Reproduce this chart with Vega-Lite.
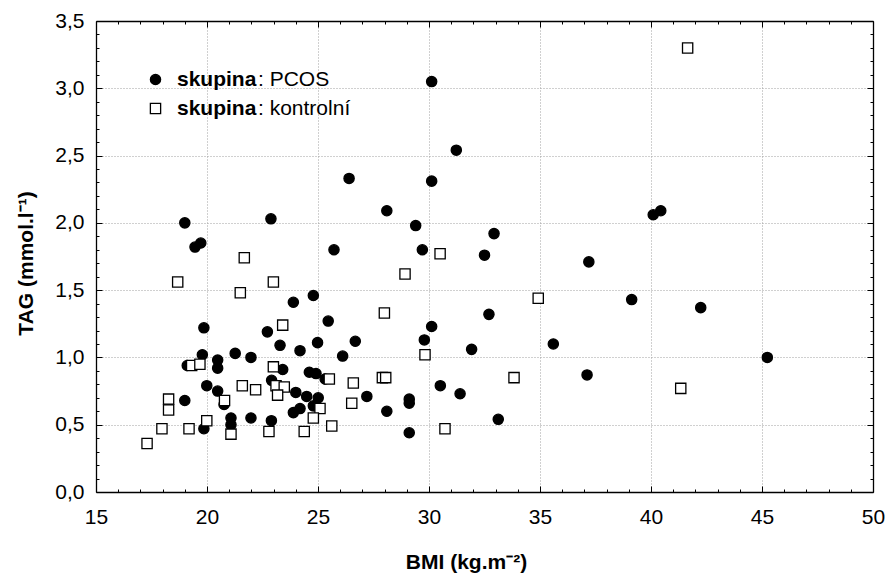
{
  "$schema": "https://vega.github.io/schema/vega-lite/v6.json",
  "width": 777,
  "height": 471,
  "autosize": "none",
  "padding": {"left": 96, "top": 21, "right": 18, "bottom": 84},
  "background": "white",
  "datasets": {
    "pts": [
      {"skupina": "PCOS", "bmi": 19.0, "tag": 2.00},
      {"skupina": "PCOS", "bmi": 19.46, "tag": 1.82},
      {"skupina": "PCOS", "bmi": 19.72, "tag": 1.85},
      {"skupina": "PCOS", "bmi": 22.88, "tag": 2.03},
      {"skupina": "PCOS", "bmi": 25.72, "tag": 1.80},
      {"skupina": "PCOS", "bmi": 26.4, "tag": 2.33},
      {"skupina": "PCOS", "bmi": 30.12, "tag": 3.05},
      {"skupina": "PCOS", "bmi": 31.23, "tag": 2.54},
      {"skupina": "PCOS", "bmi": 30.12, "tag": 2.31},
      {"skupina": "PCOS", "bmi": 28.1, "tag": 2.09},
      {"skupina": "PCOS", "bmi": 29.4, "tag": 1.98},
      {"skupina": "PCOS", "bmi": 32.93, "tag": 1.92},
      {"skupina": "PCOS", "bmi": 29.7, "tag": 1.80},
      {"skupina": "PCOS", "bmi": 32.5, "tag": 1.76},
      {"skupina": "PCOS", "bmi": 37.2, "tag": 1.71},
      {"skupina": "PCOS", "bmi": 40.1, "tag": 2.06},
      {"skupina": "PCOS", "bmi": 40.44, "tag": 2.09},
      {"skupina": "PCOS", "bmi": 23.89, "tag": 1.41},
      {"skupina": "PCOS", "bmi": 24.79, "tag": 1.46},
      {"skupina": "PCOS", "bmi": 25.46, "tag": 1.27},
      {"skupina": "PCOS", "bmi": 19.86, "tag": 1.22},
      {"skupina": "PCOS", "bmi": 22.72, "tag": 1.19},
      {"skupina": "PCOS", "bmi": 23.29, "tag": 1.09},
      {"skupina": "PCOS", "bmi": 24.19, "tag": 1.05},
      {"skupina": "PCOS", "bmi": 24.98, "tag": 1.11},
      {"skupina": "PCOS", "bmi": 26.68, "tag": 1.12},
      {"skupina": "PCOS", "bmi": 26.11, "tag": 1.01},
      {"skupina": "PCOS", "bmi": 19.79, "tag": 1.02},
      {"skupina": "PCOS", "bmi": 21.27, "tag": 1.03},
      {"skupina": "PCOS", "bmi": 21.98, "tag": 1.00},
      {"skupina": "PCOS", "bmi": 20.48, "tag": 0.98},
      {"skupina": "PCOS", "bmi": 20.48, "tag": 0.92},
      {"skupina": "PCOS", "bmi": 19.11, "tag": 0.94},
      {"skupina": "PCOS", "bmi": 23.41, "tag": 0.91},
      {"skupina": "PCOS", "bmi": 22.91, "tag": 0.83},
      {"skupina": "PCOS", "bmi": 24.61, "tag": 0.89},
      {"skupina": "PCOS", "bmi": 24.91, "tag": 0.88},
      {"skupina": "PCOS", "bmi": 25.32, "tag": 0.84},
      {"skupina": "PCOS", "bmi": 19.99, "tag": 0.79},
      {"skupina": "PCOS", "bmi": 20.48, "tag": 0.75},
      {"skupina": "PCOS", "bmi": 24.0, "tag": 0.74},
      {"skupina": "PCOS", "bmi": 24.49, "tag": 0.71},
      {"skupina": "PCOS", "bmi": 25.01, "tag": 0.70},
      {"skupina": "PCOS", "bmi": 27.2, "tag": 0.71},
      {"skupina": "PCOS", "bmi": 19.0, "tag": 0.68},
      {"skupina": "PCOS", "bmi": 20.77, "tag": 0.65},
      {"skupina": "PCOS", "bmi": 24.79, "tag": 0.64},
      {"skupina": "PCOS", "bmi": 24.19, "tag": 0.62},
      {"skupina": "PCOS", "bmi": 23.89, "tag": 0.59},
      {"skupina": "PCOS", "bmi": 21.08, "tag": 0.55},
      {"skupina": "PCOS", "bmi": 21.98, "tag": 0.55},
      {"skupina": "PCOS", "bmi": 22.9, "tag": 0.53},
      {"skupina": "PCOS", "bmi": 21.08, "tag": 0.50},
      {"skupina": "PCOS", "bmi": 19.86, "tag": 0.47},
      {"skupina": "PCOS", "bmi": 39.13, "tag": 1.43},
      {"skupina": "PCOS", "bmi": 32.7, "tag": 1.32},
      {"skupina": "PCOS", "bmi": 30.12, "tag": 1.23},
      {"skupina": "PCOS", "bmi": 29.79, "tag": 1.13},
      {"skupina": "PCOS", "bmi": 31.92, "tag": 1.06},
      {"skupina": "PCOS", "bmi": 35.6, "tag": 1.10},
      {"skupina": "PCOS", "bmi": 37.12, "tag": 0.87},
      {"skupina": "PCOS", "bmi": 30.51, "tag": 0.79},
      {"skupina": "PCOS", "bmi": 31.4, "tag": 0.73},
      {"skupina": "PCOS", "bmi": 29.11, "tag": 0.69},
      {"skupina": "PCOS", "bmi": 29.11, "tag": 0.66},
      {"skupina": "PCOS", "bmi": 28.1, "tag": 0.60},
      {"skupina": "PCOS", "bmi": 33.12, "tag": 0.54},
      {"skupina": "PCOS", "bmi": 29.11, "tag": 0.44},
      {"skupina": "PCOS", "bmi": 42.24, "tag": 1.37},
      {"skupina": "PCOS", "bmi": 45.24, "tag": 1.00},
      {"skupina": "kontrolní", "bmi": 41.65, "tag": 3.30},
      {"skupina": "kontrolní", "bmi": 21.68, "tag": 1.74},
      {"skupina": "kontrolní", "bmi": 18.68, "tag": 1.56},
      {"skupina": "kontrolní", "bmi": 22.99, "tag": 1.56},
      {"skupina": "kontrolní", "bmi": 21.5, "tag": 1.48},
      {"skupina": "kontrolní", "bmi": 23.41, "tag": 1.24},
      {"skupina": "kontrolní", "bmi": 19.31, "tag": 0.94},
      {"skupina": "kontrolní", "bmi": 19.68, "tag": 0.95},
      {"skupina": "kontrolní", "bmi": 22.99, "tag": 0.93},
      {"skupina": "kontrolní", "bmi": 25.51, "tag": 0.84},
      {"skupina": "kontrolní", "bmi": 26.59, "tag": 0.81},
      {"skupina": "kontrolní", "bmi": 21.59, "tag": 0.79},
      {"skupina": "kontrolní", "bmi": 22.19, "tag": 0.76},
      {"skupina": "kontrolní", "bmi": 23.11, "tag": 0.79},
      {"skupina": "kontrolní", "bmi": 23.48, "tag": 0.78},
      {"skupina": "kontrolní", "bmi": 23.18, "tag": 0.72},
      {"skupina": "kontrolní", "bmi": 18.27, "tag": 0.69},
      {"skupina": "kontrolní", "bmi": 18.27, "tag": 0.61},
      {"skupina": "kontrolní", "bmi": 20.79, "tag": 0.68},
      {"skupina": "kontrolní", "bmi": 25.09, "tag": 0.62},
      {"skupina": "kontrolní", "bmi": 26.52, "tag": 0.66},
      {"skupina": "kontrolní", "bmi": 24.79, "tag": 0.55},
      {"skupina": "kontrolní", "bmi": 19.99, "tag": 0.53},
      {"skupina": "kontrolní", "bmi": 17.97, "tag": 0.47},
      {"skupina": "kontrolní", "bmi": 19.19, "tag": 0.47},
      {"skupina": "kontrolní", "bmi": 21.08, "tag": 0.43},
      {"skupina": "kontrolní", "bmi": 22.79, "tag": 0.45},
      {"skupina": "kontrolní", "bmi": 24.38, "tag": 0.45},
      {"skupina": "kontrolní", "bmi": 25.62, "tag": 0.49},
      {"skupina": "kontrolní", "bmi": 17.3, "tag": 0.36},
      {"skupina": "kontrolní", "bmi": 30.5, "tag": 1.77},
      {"skupina": "kontrolní", "bmi": 28.92, "tag": 1.62},
      {"skupina": "kontrolní", "bmi": 34.92, "tag": 1.44},
      {"skupina": "kontrolní", "bmi": 27.99, "tag": 1.33},
      {"skupina": "kontrolní", "bmi": 29.82, "tag": 1.02},
      {"skupina": "kontrolní", "bmi": 27.9, "tag": 0.85},
      {"skupina": "kontrolní", "bmi": 28.05, "tag": 0.85},
      {"skupina": "kontrolní", "bmi": 33.83, "tag": 0.85},
      {"skupina": "kontrolní", "bmi": 30.72, "tag": 0.47},
      {"skupina": "kontrolní", "bmi": 41.34, "tag": 0.77}
    ],
    "skupiny": [
      {"skupina": "PCOS"},
      {"skupina": "kontrolní"}
    ]
  },
  "config": {
    "view": {"stroke": null},
    "font": "Liberation Sans",
    "axis": {
      "domainColor": "black",
      "domainWidth": 1.3,
      "tickColor": "black",
      "tickWidth": 1,
      "labelColor": "black",
      "titleColor": "black",
      "labelFont": "Liberation Sans",
      "titleFont": "Liberation Sans",
      "labelFontSize": 21,
      "titleFontSize": 21,
      "titleFontWeight": "bold",
      "labelOverlap": false,
      "labelFlush": false,
      "gridColor": "#a0a0a0",
      "gridDash": [1, 2],
      "gridWidth": 1
    },
    "legend": {
      "labelFont": "Liberation Sans",
      "labelFontSize": 21,
      "labelColor": "black",
      "padding": 0
    }
  },
  "layer": [
    {
      "data": {"name": "pts"},
      "mark": {"type": "point", "filled": true, "opacity": 1, "size": 105, "strokeWidth": 1.3},
      "encoding": {
        "x": {
          "field": "bmi", "type": "quantitative",
          "scale": {"domain": [15, 50], "nice": false, "zero": false},
          "axis": {
            "orient": "bottom",
            "values": [15,16,17,18,19,20,21,22,23,24,25,26,27,28,29,30,31,32,33,34,35,36,37,38,39,40,41,42,43,44,45,46,47,48,49,50],
            "labelExpr": "datum.value % 5 === 0 ? datum.label : ''",
            "tickSize": {"condition": {"test": "datum.value % 5 === 0", "value": -6}, "value": -3},
            "labelPadding": 20,
            "grid": true,
            "gridOpacity": {"condition": {"test": "datum.value % 5 === 0 && datum.value > 15 && datum.value < 50", "value": 1}, "value": 0},
            "title": "BMI (kg.m⁻²)",
            "titleX": 370,
            "titleY": 76,
            "titleBaseline": "alphabetic",
            "titleAlign": "center"
          }
        },
        "y": {
          "field": "tag", "type": "quantitative",
          "scale": {"domain": [0, 3.5], "nice": false, "zero": false},
          "axis": {
            "orient": "left",
            "values": [0,0.1,0.2,0.3,0.4,0.5,0.6,0.7,0.8,0.9,1,1.1,1.2,1.3,1.4,1.5,1.6,1.7,1.8,1.9,2,2.1,2.2,2.3,2.4,2.5,2.6,2.7,2.8,2.9,3,3.1,3.2,3.3,3.4,3.5],
            "labelExpr": "abs(datum.value*2 - round(datum.value*2)) < 0.000001 ? replace(format(datum.value, '.1f'), '.', ',') : ''",
            "tickSize": {"condition": {"test": "abs(datum.value*2 - round(datum.value*2)) < 0.000001", "value": -6}, "value": -3},
            "labelPadding": 18,
            "grid": true,
            "gridOpacity": {"condition": {"test": "abs(datum.value*2 - round(datum.value*2)) < 0.000001 && datum.value > 0.01 && datum.value < 3.49", "value": 1}, "value": 0},
            "title": "TAG (mmol.l⁻¹)",
            "titleX": -70,
            "titleY": 242,
            "titleAngle": -90,
            "titleBaseline": "middle",
            "titleAlign": "center"
          }
        },
        "shape": {
          "field": "skupina", "type": "nominal",
          "scale": {"domain": ["PCOS", "kontrolní"], "range": ["circle", "square"]},
          "legend": {
            "orient": "none",
            "legendX": 49,
            "legendY": 48,
            "title": null,
            "labelExpr": "'skupina'",
            "labelFontWeight": "bold",
            "labelFontSize": 21,
            "symbolSize": 105,
            "symbolStrokeWidth": 1.3,
            "labelOffset": 11,
            "rowPadding": 7
          }
        },
        "fill": {
          "field": "skupina", "type": "nominal",
          "scale": {"domain": ["PCOS", "kontrolní"], "range": ["black", "white"]}
        },
        "stroke": {
          "field": "skupina", "type": "nominal",
          "scale": {"domain": ["PCOS", "kontrolní"], "range": ["black", "black"]}
        }
      }
    },
    {
      "data": {"name": "pts"},
      "mark": {"type": "point", "opacity": 0},
      "encoding": {
        "x": {
          "field": "bmi", "type": "quantitative",
          "axis": {
            "orient": "top",
            "values": [15,16,17,18,19,20,21,22,23,24,25,26,27,28,29,30,31,32,33,34,35,36,37,38,39,40,41,42,43,44,45,46,47,48,49,50],
            "labels": false,
            "grid": false,
            "title": null,
            "tickSize": {"condition": {"test": "datum.value % 5 === 0", "value": -6}, "value": -3}
          }
        },
        "y": {
          "field": "tag", "type": "quantitative",
          "axis": {
            "orient": "right",
            "values": [0,0.1,0.2,0.3,0.4,0.5,0.6,0.7,0.8,0.9,1,1.1,1.2,1.3,1.4,1.5,1.6,1.7,1.8,1.9,2,2.1,2.2,2.3,2.4,2.5,2.6,2.7,2.8,2.9,3,3.1,3.2,3.3,3.4,3.5],
            "labels": false,
            "grid": false,
            "title": null,
            "tickSize": {"condition": {"test": "abs(datum.value*2 - round(datum.value*2)) < 0.000001", "value": -6}, "value": -3}
          }
        }
      }
    },
    {
      "data": {"name": "skupiny"},
      "mark": {"type": "point", "opacity": 0},
      "encoding": {
        "color": {
          "field": "skupina", "type": "nominal",
          "scale": {"range": ["black", "black"]},
          "legend": {
            "orient": "none",
            "legendX": 141,
            "legendY": 48,
            "title": null,
            "labelExpr": "': ' + datum.label",
            "labelFontWeight": "normal",
            "labelFontSize": 21,
            "symbolSize": 0,
            "symbolOpacity": 0,
            "symbolStrokeWidth": 0,
            "labelOffset": 0,
            "rowPadding": 7
          }
        }
      }
    }
  ],
  "resolve": {"axis": {"x": "independent", "y": "independent"}}
}
